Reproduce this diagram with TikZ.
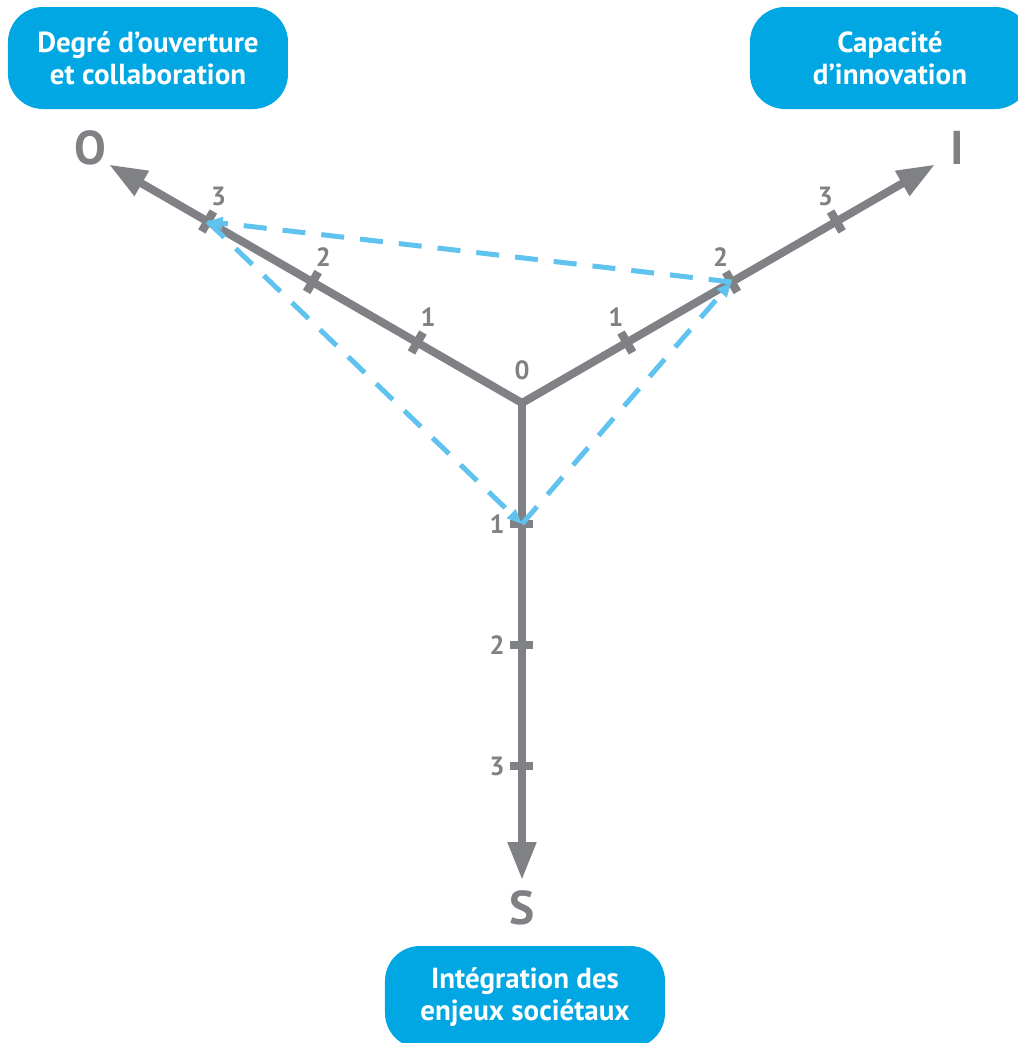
\documentclass[tikz,border=0pt]{standalone}
\usepackage{fontspec}
\setmainfont{PT Sans}
\usetikzlibrary{arrows.meta,positioning,calc}
\definecolor{axisgray}{RGB}{128,129,133}
\definecolor{boxblue}{RGB}{0,167,226}
\definecolor{dashblue}{RGB}{96,194,238}

\begin{document}
\begin{tikzpicture}[
font=\bfseries,
axis/.style={
	-{Triangle[length=0.76cm,width=0.54cm]},
	draw=axisgray,
	line width=0.16cm
},
tick/.style={
	fill=axisgray,
	rectangle,
	minimum width=0.46cm,
	minimum height=0.17cm,
	inner sep=0pt
},
ticknum/.style={
	text=axisgray,
	font=\fontsize{15}{16}\selectfont\bfseries,
	inner sep=0pt
},
letter/.style={
	text=axisgray,
	font=\fontsize{27}{28}\selectfont\bfseries,
	inner sep=0pt
},
themebox/.style={
	fill=boxblue,
	text=white,
	rounded corners=0.7cm,
	minimum width=5.6cm,
	minimum height=2.04cm,
	align=center,
	font=\fontsize{16.5}{18.2}\selectfont\bfseries
},
profile/.style={
	-{Triangle[length=0.3cm,width=0.24cm]},
	draw=dashblue,
	line width=0.1cm,
	dash pattern=on 0.46cm off 0.32cm
}
]
\useasboundingbox (-10.44,-12.8) rectangle (9.92,8.06);
\clip (-10.44,-12.8) rectangle (9.92,8.06);

\coordinate (c) at (0,0);
\coordinate (otip) at (150:9.54);
\coordinate (itip) at (30:9.54);
\coordinate (stip) at (270:9.54);

% axes
\draw[axis] (c) -- (otip);
\draw[axis] (c) -- (itip);
\draw[axis] (c) -- (stip);
\node[ticknum] (n0) at (0,0.66) {0};

% graduations
\foreach \n in {1,2,3}{
\node[tick,rotate=60] (o\n) at (150:{\n*2.42}) {};
\node[ticknum] (lo\n) at ($(o\n)+(0.22,0.5)$) {\n};
\node[tick,rotate=120] (i\n) at (30:{\n*2.42}) {};
\node[ticknum] (li\n) at ($(i\n)+(-0.22,0.5)$) {\n};
\node[tick] (s\n) at (270:{\n*2.42}) {};
\node[ticknum] (ls\n) at ($(s\n)+(-0.5,0)$) {\n};
}

% profil
\draw[profile] (i2.center) -- (o3.center);
\draw[profile] (o3.center) -- (s1.center);
\draw[profile] (s1.center) -- (i2.center);

\node[letter] (lo) at (-8.64,5.1) {O};
\node[letter] (li) at (8.7,5.1) {I};
\node[letter] (ls) at (0,-10.1) {S};

\node[themebox] (boxo) at (-7.48,6.9) {Degré d’ouverture\\et collaboration};
\node[themebox] (boxi) at (7.36,6.9) {Capacité\\d’innovation};
\node[themebox] (boxs) at (0.06,-11.88) {Intégration des\\enjeux sociétaux};
\end{tikzpicture}
\end{document}
